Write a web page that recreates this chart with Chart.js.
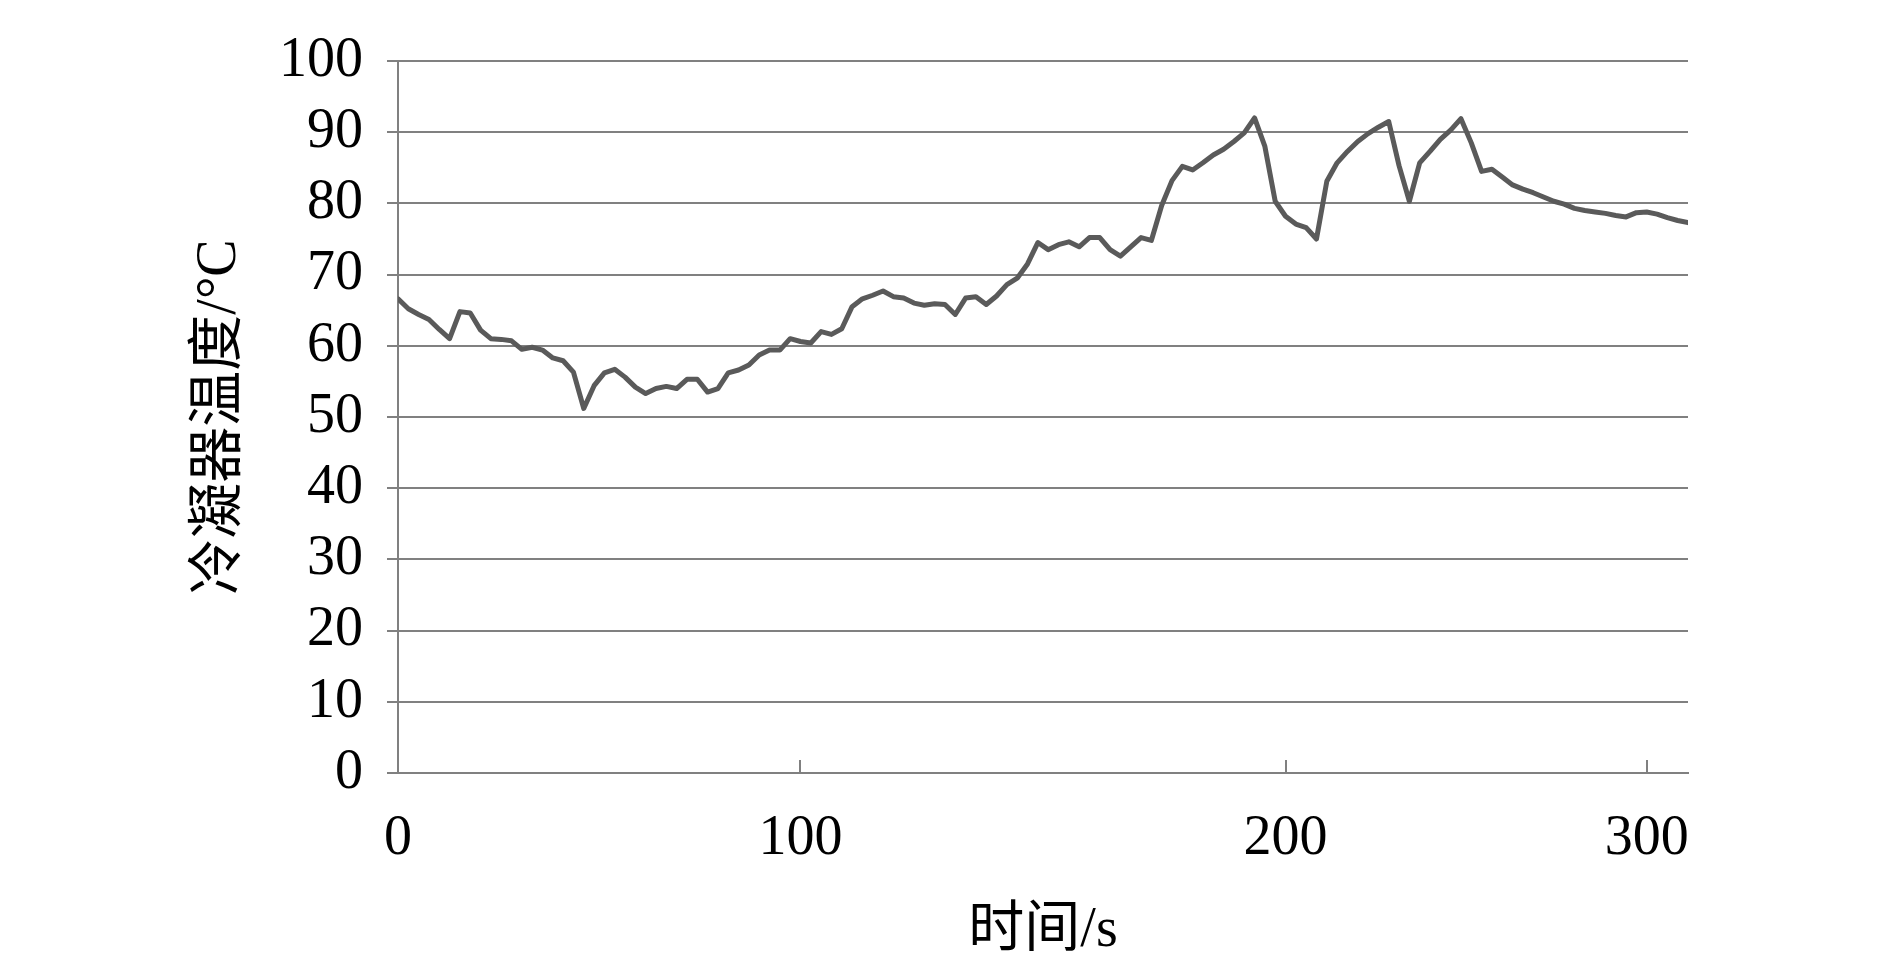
<!DOCTYPE html>
<html>
<head>
<meta charset="utf-8">
<script src="https://cdn.jsdelivr.net/npm/chart.js@4.4.1/dist/chart.umd.min.js"></script>
<style>
  html, body { margin: 0; padding: 0; background: #fff; }
  #wrap { width: 1890px; height: 959px; }
</style>
</head>
<body>
<div id="wrap"><canvas id="myChart" width="1890" height="959"></canvas></div>
<script>
// condenser temperature (°C), one reading per logged sample
var temperature = [
    66.6, 65.2, 64.4, 63.7, 62.3, 61.0, 64.8, 64.6, 62.2, 61.0,
    60.9, 60.7, 59.5, 59.8, 59.4, 58.3, 57.9, 56.3, 51.2, 54.4,
    56.2, 56.7, 55.6, 54.2, 53.3, 54.0, 54.3, 54.0, 55.3, 55.3,
    53.5, 54.0, 56.2, 56.6, 57.3, 58.7, 59.4, 59.4, 61.0, 60.6,
    60.4, 62.0, 61.6, 62.4, 65.5, 66.6, 67.1, 67.7, 66.9, 66.7,
    66.0, 65.7, 65.9, 65.8, 64.4, 66.7, 66.9, 65.8, 67.0, 68.6,
    69.5, 71.5, 74.5, 73.5, 74.2, 74.6, 73.9, 75.2, 75.2, 73.5,
    72.6, 73.9, 75.2, 74.8, 79.7, 83.2, 85.2, 84.7, 85.7, 86.8,
    87.6, 88.7, 89.9, 92.0, 88.0, 80.3, 78.2, 77.1, 76.6, 75.0,
    83.1, 85.7, 87.3, 88.7, 89.8, 90.7, 91.5, 85.3, 80.3, 85.7,
    87.3, 89.0, 90.3, 91.9, 88.5, 84.5, 84.8, 83.7, 82.6, 82.0,
    81.5, 80.9, 80.3, 79.9, 79.3, 79.0, 78.8, 78.6, 78.3, 78.1,
    78.7, 78.8, 78.5, 78.0, 77.6, 77.3
];

// samples that carry a time label, and the label text
var tickSamples = [0, 39, 86, 121];
var tickLabels = ['0', '100', '200', '300'];

var axisGrey = '#808080';
var seriesGrey = '#5a5a5a';
var tickFont = {family: "'Liberation Serif', 'Times New Roman', serif", size: 56};
var titleFont = {family: "'Liberation Serif', 'Noto Sans CJK SC', serif", size: 56, lineHeight: 1};

var points = [];
for (var i = 0; i < temperature.length; i++) {
    points.push({x: i, y: temperature[i]});
}

// Excel style tick marks on the time axis point up into the plot
var innerTicks = {
    id: 'innerTicks',
    afterDraw: function(chart) {
        var ctx = chart.ctx;
        var xs = chart.scales.x;
        var bottom = chart.chartArea.bottom;
        ctx.save();
        ctx.strokeStyle = axisGrey;
        ctx.lineWidth = 2;
        for (const s of tickSamples) {
            var px = Math.round(xs.getPixelForValue(s));
            ctx.beginPath();
            ctx.moveTo(px, bottom);
            ctx.lineTo(px, bottom - 13);
            ctx.stroke();
        }
        ctx.restore();
    }
};

var ctx = document.getElementById('myChart').getContext('2d');
var myChart = new Chart(ctx, {
    type: 'line',
    data: {
        datasets: [{
            data: points,
            borderColor: seriesGrey,
            borderWidth: 5,
            pointRadius: 0,
            tension: 0,
            borderJoinStyle: 'round',
            borderCapStyle: 'round'
        }]
    },
    options: {
        responsive: false,
        animation: false,
        devicePixelRatio: 1,
        layout: {padding: {top: 61, right: 202, bottom: 0, left: 0}},
        plugins: {legend: {display: false}, tooltip: {enabled: false}},
        scales: {
            x: {
                type: 'linear',
                min: 0,
                max: temperature.length - 1,
                afterBuildTicks: function(scale) {
                    scale.ticks = tickSamples.map(function(v) { return {value: v}; });
                },
                afterFit: function(scale) { scale.height = 186; },
                grid: {drawOnChartArea: false, drawTicks: false},
                border: {color: axisGrey, width: 2},
                ticks: {
                    padding: 33,
                    autoSkip: false,
                    maxRotation: 0,
                    font: tickFont,
                    color: '#000',
                    callback: function(value) {
                        var k = tickSamples.indexOf(value);
                        return k < 0 ? '' : tickLabels[k];
                    }
                },
                title: {display: true, text: '时间/s', font: titleFont, color: '#000', padding: {top: 0, bottom: 0}}
            },
            y: {
                min: 0,
                max: 100,
                afterFit: function(scale) { scale.width = 398; },
                ticks: {stepSize: 10, padding: 24, font: tickFont, color: '#000'},
                grid: {color: axisGrey, lineWidth: 2, tickLength: 11},
                border: {color: axisGrey, width: 2},
                title: {display: true, text: '冷凝器温度/°C', font: titleFont, color: '#000', padding: {top: 192, bottom: 0}}
            }
        }
    },
    plugins: [innerTicks]
});
</script>
</body>
</html>
